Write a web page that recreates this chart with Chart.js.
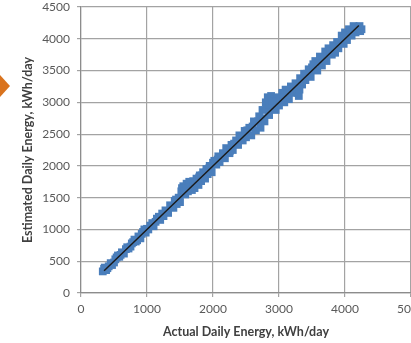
<!DOCTYPE html>
<html>
<head>
<meta charset="utf-8">
<script src="https://cdn.jsdelivr.net/npm/chart.js@4.4.0/dist/chart.umd.min.js"></script>
<style>
    html, body { margin: 0; padding: 0; background: #fff; overflow: hidden; }
    #wrap { width: 440px; height: 343px; position: relative; }
</style>
</head>
<body>
<div id="wrap"><canvas id="energyChart" width="440" height="343"></canvas></div>
<script>
// actual vs estimated daily energy, kWh/day
const actualEnergy = [
    330, 350, 380, 420, 450, 500, 540, 580, 620, 650, 700, 750, 790, 830, 870, 900, 940, 980, 1000,
    1050, 1100, 1150, 1200, 1250, 1280, 1320, 1350, 1400, 1420, 1450, 1480, 1500,
    1520, 1550, 1580, 1600, 1620, 1650, 1680, 1700, 1720, 1750, 1780, 1800, 1820, 1850, 1880, 1900, 1920, 1950, 1980, 2000,
    2050, 2080, 2100, 2150, 2180, 2200, 2250, 2280, 2300, 2350, 2380, 2400, 2450, 2480, 2500,
    2550, 2580, 2620, 2650, 2700, 2720, 2750, 2780, 2800, 2830, 2850, 2880, 2900, 2930, 2950, 2980, 3000,
    3050, 3080, 3100, 3150, 3180, 3200, 3250, 3280, 3300, 3320, 3350, 3380, 3400, 3450, 3480, 3500,
    3550, 3580, 3620, 3650, 3700, 3720, 3750, 3800, 3820, 3850, 3880, 3900, 3950, 3980, 4000, 4030, 4060, 4100, 4130, 4160, 4200, 4230, 4250,
    360, 400, 470, 520, 560, 600, 680, 720, 770, 810, 850, 920, 960,
    1020, 1080, 1130, 1180, 1230, 1300, 1370, 1440, 1490,
    1530, 1560, 1600, 1640, 1660, 1700, 1740, 1760, 1790, 1830, 1860, 1900, 1940, 1970,
    2020, 2070, 2120, 2170, 2220, 2260, 2320, 2370, 2420, 2470, 2520,
    2600, 2680, 2760, 2810, 2860, 2900, 2960, 3020, 3060, 3120, 3220, 3270, 3310, 3360, 3420, 3470,
    3520, 3600, 3680, 3740, 3780, 3860, 3920, 3960, 4020, 4080, 4140, 4180, 4220
];
const estimatedEnergy = [
    340, 380, 360, 420, 470, 480, 560, 570, 640, 620, 720, 730, 800, 810, 890, 860, 960, 950, 1010,
    1060, 1050, 1170, 1150, 1210, 1300, 1260, 1380, 1340, 1450, 1400, 1500, 1430,
    1600, 1680, 1550, 1720, 1600, 1700, 1620, 1760, 1650, 1800, 1700, 1850, 1760, 1900, 1800, 1950, 1870, 2000, 1900, 2050,
    2020, 2150, 2060, 2200, 2120, 2280, 2200, 2330, 2250, 2400, 2330, 2480, 2400, 2550, 2450,
    2600, 2480, 2700, 2560, 2780, 2600, 2880, 2700, 3000, 3080, 2800, 3100, 2900, 3050, 2880, 3080, 2950,
    3150, 3000, 3200, 3050, 3250, 3150, 3300, 3150, 3100, 3380, 3280, 3450, 3350, 3520, 3400, 3550,
    3650, 3500, 3720, 3580, 3800, 3650, 3850, 3750, 3900, 3780, 3950, 3850, 4050, 3920, 4100, 3980, 4150, 4050, 4200, 4100, 4180, 4120, 4150,
    400, 390, 440, 530, 590, 600, 690, 700, 780, 840, 830, 930, 1000,
    1000, 1100, 1120, 1200, 1250, 1280, 1350, 1470, 1460,
    1650, 1600, 1650, 1750, 1660, 1680, 1740, 1780, 1820, 1850, 1830, 1900, 1960, 1990,
    2080, 2100, 2130, 2180, 2250, 2240, 2350, 2390, 2450, 2470, 2560,
    2620, 2700, 2750, 2900, 2960, 3020, 3000, 3050, 3080, 3120, 3230, 3250, 3200, 3350, 3450, 3500,
    3600, 3620, 3700, 3760, 3800, 3870, 3930, 4000, 4050, 4100, 4150, 4150, 4200
];
// trend line end points
const trendActual = [350, 4210];
const trendEstimated = [350, 4210];

const xTicks = [0, 1000, 2000, 3000, 4000, 5000];
const yTicks = [0, 500, 1000, 1500, 2000, 2500, 3000, 3500, 4000, 4500];

const points = actualEnergy.map((x, i) => ({ x: x, y: estimatedEnergy[i] }));
const trend = trendActual.map((x, i) => ({ x: x, y: trendEstimated[i] }));

// small orange pointer on the left edge
const arrowPlugin = {
    id: 'arrow',
    afterDraw(chart) {
        const ctx = chart.ctx;
        ctx.save();
        ctx.fillStyle = '#d9731e';
        ctx.beginPath();
        ctx.moveTo(0, 75);
        ctx.lineTo(10, 86);
        ctx.lineTo(0, 97);
        ctx.closePath();
        ctx.fill();
        ctx.restore();
    }
};

const gridColor = '#a3a3a3';
const textColor = '#595959';

new Chart(document.getElementById('energyChart'), {
    type: 'scatter',
    data: {
        datasets: [{
            label: 'Trend',
            data: trend,
            showLine: true,
            borderColor: '#1a1a1a',
            borderWidth: 1.5,
            pointRadius: 0,
            order: 0
        }, {
            label: 'Daily energy',
            data: points,
            pointStyle: 'rect',
            pointRadius: 5.5,
            backgroundColor: '#4a7ebb',
            borderColor: '#4a7ebb',
            borderWidth: 0,
            order: 1
        }]
    },
    options: {
        responsive: false,
        animation: false,
        layout: { padding: { top: 7, right: 29, left: 18, bottom: 0 } },
        plugins: {
            legend: { display: false },
            tooltip: { enabled: false }
        },
        scales: {
            x: {
                type: 'linear',
                min: 0,
                max: 5000,
                afterBuildTicks: axis => { axis.ticks = xTicks.map(v => ({ value: v })); },
                afterFit: axis => { axis.height = 50; },
                grid: { color: gridColor, lineWidth: 1.2, tickLength: 4 },
                border: { color: '#8c8c8c', width: 1.2 },
                ticks: {
                    color: textColor, font: { family: 'Lato', size: 12 }, padding: 5,
                    maxRotation: 0, autoSkip: false, callback: v => String(v)
                },
                title: {
                    display: true,
                    text: 'Actual Daily Energy, kWh/day',
                    color: '#404040',
                    font: { family: 'Lato', size: 12.5, weight: 'bold' },
                    padding: { top: 2 }
                }
            },
            y: {
                type: 'linear',
                min: 0,
                max: 4500,
                afterBuildTicks: axis => { axis.ticks = yTicks.map(v => ({ value: v })); },
                afterFit: axis => {
                    axis.width = 63;
                    axis.paddingTop = 0;
                    axis.paddingBottom = 0;
                },
                grid: { color: gridColor, lineWidth: 1.2, tickLength: 4 },
                border: { color: '#8c8c8c', width: 1.2 },
                ticks: {
                    color: textColor, font: { family: 'Lato', size: 12 }, padding: 7,
                    autoSkip: false, callback: v => String(v)
                },
                title: {
                    display: true,
                    text: 'Estimated Daily Energy, kWh/day',
                    color: '#404040',
                    font: { family: 'Lato', size: 12.5, weight: 'bold' },
                    padding: { top: 2, bottom: 2 }
                }
            }
        }
    },
    plugins: [arrowPlugin]
});
</script>
</body>
</html>
